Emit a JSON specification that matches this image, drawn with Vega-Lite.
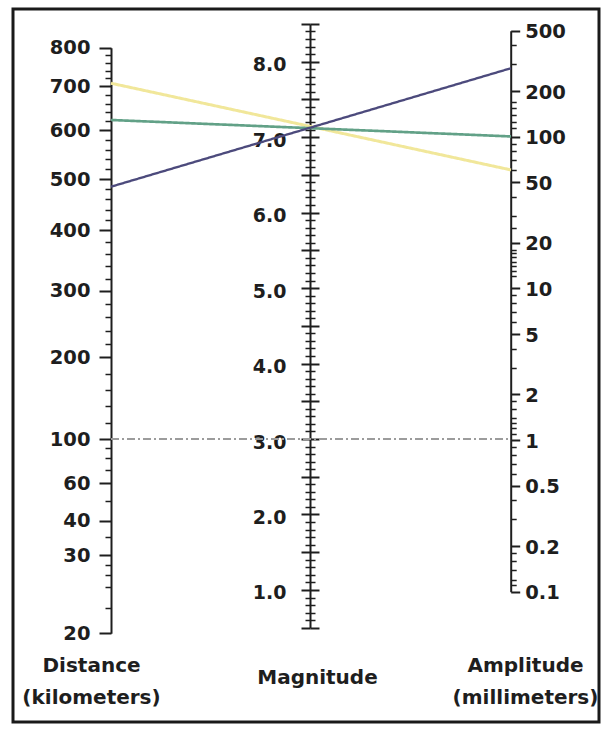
{
  "$schema": "https://vega.github.io/schema/vega-lite/v6.json",
  "width": 586,
  "height": 713,
  "autosize": "none",
  "padding": {"left": 13, "top": 9, "right": 9, "bottom": 11},
  "background": "white",
  "config": {
    "view": {"stroke": "#1a1a1a", "strokeWidth": 3},
    "axis": {
      "grid": false,
      "labelFont": "DejaVu Sans",
      "labelFontWeight": "bold",
      "labelColor": "#1e1e1e",
      "domainColor": "#1e1e1e",
      "tickColor": "#1e1e1e",
      "labelOverlap": false,
      "labelFlush": false,
      "labelBound": false,
      "title": null
    }
  },
  "datasets": {
    "readings": [
      {"line": "yellow", "distance": 710, "magnitude": 7.1, "amplitude": 60},
      {"line": "green", "distance": 620, "magnitude": 7.1, "amplitude": 100},
      {"line": "purple", "distance": 485, "magnitude": 7.1, "amplitude": 280},
      {"line": "reference", "distance": 100, "magnitude": 3.0, "amplitude": 1}
    ],
    "segments": [
      {"line": "yellow", "at_distance_axis": 7.714, "at_amplitude_axis": 6.565},
      {"line": "green", "at_distance_axis": 7.227, "at_amplitude_axis": 7.009},
      {"line": "purple", "at_distance_axis": 6.343, "at_amplitude_axis": 7.913},
      {"line": "reference", "at_distance_axis": 3.0, "at_amplitude_axis": 3.0}
    ]
  },
  "resolve": {"scale": {"y": "independent"}, "axis": {"y": "independent"}},
  "layer": [
    {
      "data": {"name": "segments"},
      "mark": {"type": "rule"},
      "encoding": {
        "x": {
          "datum": "Distance",
          "type": "nominal",
          "scale": {"type": "point", "domain": ["Distance", "Magnitude", "Amplitude"], "range": [98, 498], "padding": 0},
          "axis": {
            "orient": "bottom",
            "offset": -57,
            "domain": false,
            "ticks": false,
            "tickSize": 0,
            "labelPadding": {"condition": {"test": "datum.value === 'Magnitude'", "value": 12}, "value": 0},
            "labelOffset": {"condition": [{"test": "datum.value === 'Distance'", "value": -20}, {"test": "datum.value === 'Amplitude'", "value": 14}], "value": 6},
            "labelAngle": 0,
            "labelBaseline": "middle",
            "labelFontSize": 20,
            "labelLineHeight": 32,
            "labelLimit": 300,
            "labelExpr": "datum.value === 'Distance' ? ['Distance', '(kilometers)'] : datum.value === 'Amplitude' ? ['Amplitude', '(millimeters)'] : datum.label"
          }
        },
        "x2": {"datum": "Amplitude"},
        "y": {
          "field": "at_distance_axis",
          "type": "quantitative",
          "scale": {"domain": [0.5, 8.5], "range": [618.7, 14.9], "nice": false, "zero": false},
          "axis": null
        },
        "y2": {"field": "at_amplitude_axis"},
        "color": {
          "field": "line",
          "type": "nominal",
          "scale": {"domain": ["yellow", "green", "purple", "reference"], "range": ["#f1e79a", "#62a187", "#4c4a7c", "#9c9c9c"]},
          "legend": null
        },
        "strokeWidth": {
          "field": "line",
          "type": "nominal",
          "scale": {"domain": ["yellow", "green", "purple", "reference"], "range": [3, 2, 1.5, 1.5]},
          "legend": null
        },
        "strokeDash": {
          "field": "line",
          "type": "nominal",
          "scale": {"domain": ["yellow", "green", "purple", "reference"], "range": [[1, 0], [1, 0], [1, 0], [8, 3, 2, 3]]},
          "legend": null
        }
      }
    },
    {
      "data": {"name": "readings"},
      "mark": {"type": "point", "opacity": 0},
      "encoding": {
        "y": {
          "field": "distance",
          "type": "quantitative",
          "scale": {
            "domain": [20, 22, 24, 26, 28, 30, 35, 40, 50, 60, 70, 80, 90, 100, 200, 300, 400, 500, 600, 700, 800],
            "range": [624.3, 599.3, 577.7, 566, 556, 546, 527.7, 511.7, 491.7, 474.3, 461, 449.3, 439.3, 430, 348.3, 281.7, 221, 170, 121, 77, 38.7],
            "nice": false, "zero": false
          },
          "axis": {
            "orient": "left", "offset": -98,
            "values": [20, 30, 40, 60, 100, 200, 300, 400, 500, 600, 700, 800],
            "format": "d", "tickSize": 12, "tickWidth": 2, "domainWidth": 2,
            "labelFontSize": 19.5, "labelPadding": 9
          }
        }
      }
    },
    {
      "data": {"name": "readings"},
      "mark": {"type": "point", "opacity": 0},
      "encoding": {
        "y": {
          "field": "distance",
          "type": "quantitative",
          "scale": {
            "domain": [20, 22, 24, 26, 28, 30, 35, 40, 50, 60, 70, 80, 90, 100, 200, 300, 400, 500, 600, 700, 800],
            "range": [624.3, 599.3, 577.7, 566, 556, 546, 527.7, 511.7, 491.7, 474.3, 461, 449.3, 439.3, 430, 348.3, 281.7, 221, 170, 121, 77, 38.7],
            "nice": false, "zero": false
          },
          "axis": {
            "orient": "left", "offset": -98,
            "values": [22, 24, 26, 28, 35, 50, 70, 80, 90, 120, 140, 160, 180, 220, 240, 260, 280, 320, 340, 360, 380, 420, 440, 460, 480, 520, 540, 560, 580, 620, 640, 660, 680, 720, 740, 760, 780],
            "labels": false, "domain": false, "tickSize": 6, "tickWidth": 1.5
          }
        }
      }
    },
    {
      "data": {"name": "readings"},
      "mark": {"type": "point", "opacity": 0},
      "encoding": {
        "y": {
          "field": "magnitude",
          "type": "quantitative",
          "scale": {"domain": [0.5, 8.5], "range": [618.7, 14.9], "nice": false, "zero": false},
          "axis": {
            "orient": "left", "offset": -297,
            "values": [0.5, 1, 1.5, 2, 2.5, 3, 3.5, 4, 4.5, 5, 5.5, 6, 6.5, 7, 7.5, 8, 8.5],
            "labelExpr": "datum.value % 1 === 0 ? format(datum.value, '.1f') : ''",
            "tickSize": 9, "tickWidth": 2, "domainWidth": 2,
            "labelFontSize": 19, "labelPadding": 15, "labelOffset": 3
          }
        }
      }
    },
    {
      "data": {"name": "readings"},
      "mark": {"type": "point", "opacity": 0},
      "encoding": {
        "y": {
          "field": "magnitude",
          "type": "quantitative",
          "scale": {"domain": [0.5, 8.5], "range": [618.7, 14.9], "nice": false, "zero": false},
          "axis": {
            "orient": "right", "offset": -289,
            "values": [0.5, 1, 1.5, 2, 2.5, 3, 3.5, 4, 4.5, 5, 5.5, 6, 6.5, 7, 7.5, 8, 8.5],
            "labels": false, "domain": false, "tickSize": 9, "tickWidth": 2
          }
        }
      }
    },
    {
      "data": {"name": "readings"},
      "mark": {"type": "point", "opacity": 0},
      "encoding": {
        "y": {
          "field": "magnitude",
          "type": "quantitative",
          "scale": {"domain": [0.5, 8.5], "range": [618.7, 14.9], "nice": false, "zero": false},
          "axis": {
            "orient": "left", "offset": -297,
            "values": [0.6, 0.7, 0.8, 0.9, 1.1, 1.2, 1.3, 1.4, 1.6, 1.7, 1.8, 1.9, 2.1, 2.2, 2.3, 2.4, 2.6, 2.7, 2.8, 2.9, 3.1, 3.2, 3.3, 3.4, 3.6, 3.7, 3.8, 3.9, 4.1, 4.2, 4.3, 4.4, 4.6, 4.7, 4.8, 4.9, 5.1, 5.2, 5.3, 5.4, 5.6, 5.7, 5.8, 5.9, 6.1, 6.2, 6.3, 6.4, 6.6, 6.7, 6.8, 6.9, 7.1, 7.2, 7.3, 7.4, 7.6, 7.7, 7.8, 7.9, 8.1, 8.2, 8.3, 8.4],
            "labels": false, "domain": false, "tickSize": 5, "tickWidth": 1.5
          }
        }
      }
    },
    {
      "data": {"name": "readings"},
      "mark": {"type": "point", "opacity": 0},
      "encoding": {
        "y": {
          "field": "magnitude",
          "type": "quantitative",
          "scale": {"domain": [0.5, 8.5], "range": [618.7, 14.9], "nice": false, "zero": false},
          "axis": {
            "orient": "right", "offset": -289,
            "values": [0.6, 0.7, 0.8, 0.9, 1.1, 1.2, 1.3, 1.4, 1.6, 1.7, 1.8, 1.9, 2.1, 2.2, 2.3, 2.4, 2.6, 2.7, 2.8, 2.9, 3.1, 3.2, 3.3, 3.4, 3.6, 3.7, 3.8, 3.9, 4.1, 4.2, 4.3, 4.4, 4.6, 4.7, 4.8, 4.9, 5.1, 5.2, 5.3, 5.4, 5.6, 5.7, 5.8, 5.9, 6.1, 6.2, 6.3, 6.4, 6.6, 6.7, 6.8, 6.9, 7.1, 7.2, 7.3, 7.4, 7.6, 7.7, 7.8, 7.9, 8.1, 8.2, 8.3, 8.4],
            "labels": false, "domain": false, "tickSize": 5, "tickWidth": 1.5
          }
        }
      }
    },
    {
      "data": {"name": "readings"},
      "mark": {"type": "point", "opacity": 0},
      "encoding": {
        "y": {
          "field": "amplitude",
          "type": "quantitative",
          "scale": {"type": "log", "domain": [0.1, 500], "range": [582.7, 21.7], "nice": false},
          "axis": {
            "orient": "right", "offset": -88.3,
            "values": [0.1, 0.2, 0.5, 1, 2, 5, 10, 20, 50, 100, 200, 500],
            "format": "~g", "tickSize": 9, "tickWidth": 2, "domainWidth": 2,
            "labelFontSize": 19.5, "labelPadding": 5, "labelOffset": 1
          }
        }
      }
    },
    {
      "data": {"name": "readings"},
      "mark": {"type": "point", "opacity": 0},
      "encoding": {
        "y": {
          "field": "amplitude",
          "type": "quantitative",
          "scale": {"type": "log", "domain": [0.1, 500], "range": [582.7, 21.7], "nice": false},
          "axis": {
            "orient": "right", "offset": -88.3,
            "values": [0.11, 0.12, 0.14, 0.16, 0.18, 0.3, 0.4, 0.6, 0.7, 0.8, 0.9, 1.1, 1.2, 1.3, 1.4, 1.6, 1.8, 3, 4, 6, 7, 8, 9, 12, 13, 14, 15, 16, 17, 18, 25, 30, 40, 60, 70, 80, 90, 115, 125, 140, 155, 170, 300, 400],
            "labels": false, "domain": false, "tickSize": 5.5, "tickWidth": 1.5
          }
        }
      }
    }
  ]
}
